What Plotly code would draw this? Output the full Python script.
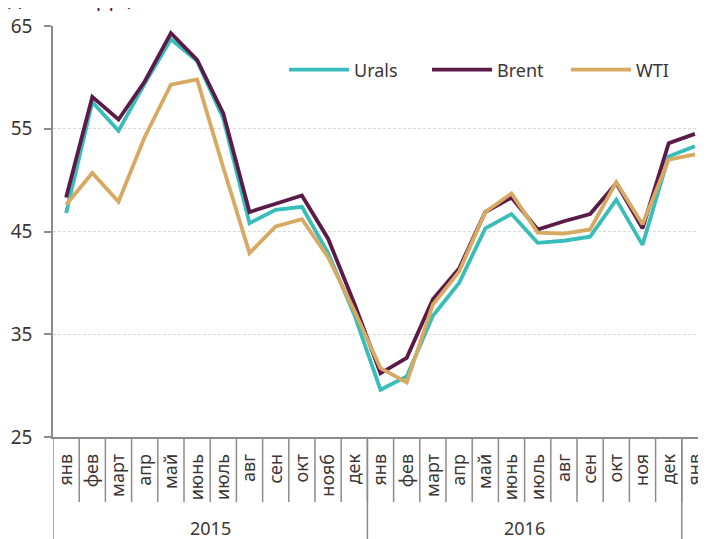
import plotly.graph_objects as go

# ---- data ----
months = ["янв", "фев", "март", "апр", "май", "июнь", "июль", "авг", "сен", "окт", "нояб", "дек",
          "янв", "фев", "март", "апр", "май", "июнь", "июль", "авг", "сен", "окт", "ноя", "дек",
          "янв"]
years = ["2015", "2016"]
year_lengths = [12, 12]

urals = [46.8, 57.6, 54.8, 59.4, 63.7, 61.6, 56.0, 45.8, 47.1, 47.4, 42.9, 36.9,
         29.6, 30.9, 36.8, 40.0, 45.3, 46.7, 43.9, 44.1, 44.5, 48.1, 43.7, 52.3, 53.3]
brent = [48.3, 58.1, 55.9, 59.6, 64.3, 61.7, 56.5, 46.9, 47.7, 48.5, 44.3, 38.0,
         31.2, 32.7, 38.4, 41.4, 46.9, 48.3, 45.2, 46.0, 46.7, 49.7, 45.3, 53.6, 54.5]
wti = [47.6, 50.7, 47.9, 54.2, 59.3, 59.8, 51.2, 42.9, 45.5, 46.2, 42.5, 37.3,
       31.7, 30.3, 37.9, 41.1, 46.9, 48.7, 44.9, 44.8, 45.2, 49.8, 45.7, 52.0, 52.5]

y_ticks = [25, 35, 45, 55, 65]
unit_label = "(долл./барр.)"

# ---- style ----
FONT = "Noto Sans"
TXT = "#3d3434"
AXC = "#8f8a8a"
C_URALS = "#38BDBA"
C_BRENT = "#5C1A48"
C_WTI = "#D8A960"

PAGE_OFF = 8            # browser body margin
W, H = 706 - PAGE_OFF, 539 - PAGE_OFF
ML, MR, MT, MB = 53 - PAGE_OFF, 0, 26 - PAGE_OFF, 102
plot_h = H - MT - MB
plot_w = W - ML - MR
cat_w = 26.2


def px_x(page_x):
    return (page_x - PAGE_OFF - ML) / plot_w


def px_y(page_y):
    return (MT + plot_h - (page_y - PAGE_OFF)) / plot_h


x = list(range(len(months)))

series = [("Urals", urals, C_URALS, "legend", 284),
          ("Brent", brent, C_BRENT, "legend2", 427),
          ("WTI", wti, C_WTI, "legend3", 566)]

fig = go.Figure()
for name, vals, col, lg, _ in series:
    fig.add_trace(go.Scatter(x=x, y=vals, name=name, mode="lines", legend=lg,
                             line=dict(color=col, width=3.8)))

shapes = []
tick_len_frac = 65 / plot_h
for i in range(1, len(months)):
    shapes.append(dict(type="line", xref="x", yref="paper", x0=i - 0.5, x1=i - 0.5,
                       y0=0, y1=-tick_len_frac, line=dict(color=AXC, width=1.5)))
bounds = [-0.5]
for n in year_lengths:
    bounds.append(bounds[-1] + n)
for b in bounds:
    shapes.append(dict(type="line", xref="x", yref="paper", x0=b, x1=b,
                       y0=0, y1=-MB / plot_h, line=dict(color=AXC, width=1.5)))

annotations = []
for k, yr in enumerate(years):
    cx = (bounds[k] + bounds[k + 1]) / 2
    annotations.append(dict(text=yr, xref="x", yref="paper", x=cx, y=px_y(528),
                            xanchor="center", yanchor="middle", showarrow=False,
                            font=dict(family=FONT, size=18, color=TXT)))
annotations.append(dict(text=unit_label, xref="paper", yref="paper", x=px_x(0), y=px_y(14),
                        xanchor="left", yanchor="bottom", showarrow=False,
                        font=dict(family=FONT, size=21, color=C_BRENT)))

legend_common = dict(orientation="h", xanchor="left", yanchor="middle",
                     font=dict(family=FONT, size=18, color=TXT),
                     bgcolor="rgba(0,0,0,0)", itemwidth=60)

layout_legends = {}
for name, vals, col, lg, lx in series:
    layout_legends[lg] = dict(legend_common, x=px_x(lx), y=px_y(70))

fig.update_layout(
    width=W, height=H,
    margin=dict(l=ML, r=MR, t=MT, b=MB),
    paper_bgcolor="white", plot_bgcolor="white",
    font=dict(family=FONT, color=TXT),
    showlegend=True,
    shapes=shapes,
    annotations=annotations,
    **layout_legends,
)

fig.update_xaxes(range=[-0.5, -0.5 + plot_w / cat_w], tickmode="array", tickvals=x, ticktext=months,
                 tickangle=-90, showline=True, linecolor=AXC, linewidth=1.5,
                 showgrid=False, zeroline=False, ticks="outside", ticklen=8,
                 tickcolor="rgba(0,0,0,0)",
                 tickfont=dict(family=FONT, size=18, color=TXT))
fig.update_yaxes(range=[25, 65], tickmode="array", tickvals=y_ticks,
                 showline=True, linecolor=AXC, linewidth=1.5,
                 ticks="outside", ticklen=7, tickcolor=AXC, tickwidth=1.5,
                 showgrid=True, gridcolor="#d9d9d9", griddash="3px,2px", gridwidth=1,
                 zeroline=False, ticklabelstandoff=8,
                 tickfont=dict(family=FONT, size=19, color=TXT))

fig.write_html("out.html")
